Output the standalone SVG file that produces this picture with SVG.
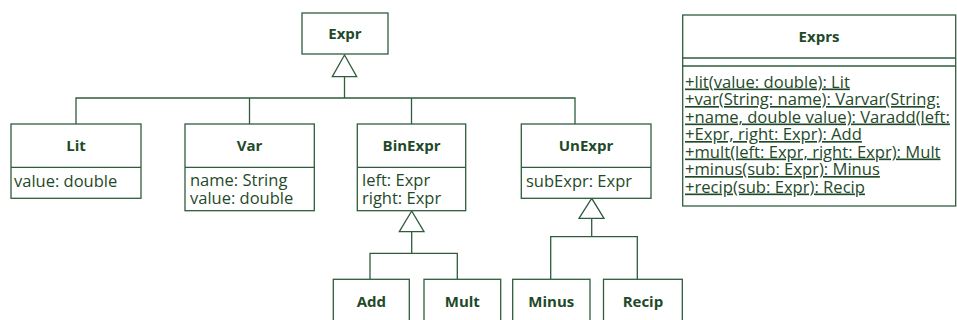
<svg xmlns="http://www.w3.org/2000/svg" width="957" height="320" viewBox="0 0 957 320">
<style>
.box{fill:#fff;stroke:#2f5c3c;stroke-width:1.3}
.ln{fill:none;stroke:#2f5c3c;stroke-width:1.3}
.tri{fill:#fff;stroke:#2f5c3c;stroke-width:1.3}
.h{font-family:"Open Sans","Liberation Sans",sans-serif;font-weight:bold;font-size:15px;fill:#1f4a2a;text-anchor:middle}
.a{font-family:"Open Sans","Liberation Sans",sans-serif;font-size:16.5px;fill:#1f4a2a}
.m{font-family:"Open Sans","Liberation Sans",sans-serif;font-size:16.6px;fill:#1f4a2a;text-decoration:underline}
</style>
<rect x="0" y="0" width="957" height="320" fill="#fff"/>
<g id="connectors">
<polyline class="ln" points="76,124 76,98 575,98 575,124"/>
<line class="ln" x1="249.5" y1="98" x2="249.5" y2="124"/>
<line class="ln" x1="411.5" y1="98" x2="411.5" y2="124"/>
<line class="ln" x1="344.5" y1="76.7" x2="344.5" y2="98"/>
<polygon class="tri" points="344.5,55 332.3,76.7 356.7,76.7"/>
<polyline class="ln" points="370,279.3 370,253.3 457.3,253.3 457.3,279.3"/>
<line class="ln" x1="411.7" y1="231.7" x2="411.7" y2="253.3"/>
<polygon class="tri" points="411.7,211 399.3,231.7 424,231.7"/>
<polyline class="ln" points="550.7,279.3 550.7,236.7 637.3,236.7 637.3,279.3"/>
<line class="ln" x1="591.7" y1="218.3" x2="591.7" y2="236.7"/>
<polygon class="tri" points="591.7,198.3 579,218.3 604,218.3"/>
</g>
<g id="Expr">
<rect class="box" x="302" y="13" width="86" height="41"/>
<text class="h" x="345" y="39">Expr</text>
</g>
<g id="Lit">
<rect class="box" x="11" y="124" width="130" height="74.3"/>
<line class="ln" x1="11" y1="167.3" x2="141" y2="167.3"/>
<text class="h" x="76" y="151">Lit</text>
<text class="a" x="14" y="187">value: double</text>
</g>
<g id="Var">
<rect class="box" x="185" y="124" width="129.3" height="86.7"/>
<line class="ln" x1="185" y1="167.3" x2="314.3" y2="167.3"/>
<text class="h" x="249.5" y="151">Var</text>
<text class="a" x="190" y="186">name: String</text>
<text class="a" x="190" y="204">value: double</text>
</g>
<g id="BinExpr">
<rect class="box" x="357.3" y="124" width="108.4" height="86.7"/>
<line class="ln" x1="357.3" y1="167.3" x2="465.7" y2="167.3"/>
<text class="h" x="411.5" y="151">BinExpr</text>
<text class="a" x="362" y="186">left: Expr</text>
<text class="a" x="362" y="204">right: Expr</text>
</g>
<g id="UnExpr">
<rect class="box" x="521.3" y="124" width="129.7" height="74.3"/>
<line class="ln" x1="521.3" y1="167.3" x2="651" y2="167.3"/>
<text class="h" x="586" y="151">UnExpr</text>
<text class="a" x="526" y="187">subExpr: Expr</text>
</g>
<g id="Add">
<rect class="box" x="333.3" y="279.3" width="76" height="50"/>
<text class="h" x="371.3" y="307">Add</text>
</g>
<g id="Mult">
<rect class="box" x="424" y="279.3" width="76.7" height="50"/>
<text class="h" x="462.3" y="307">Mult</text>
</g>
<g id="Minus">
<rect class="box" x="512.7" y="279.3" width="77.3" height="50"/>
<text class="h" x="551.3" y="307">Minus</text>
</g>
<g id="Recip">
<rect class="box" x="603.5" y="279.3" width="78.8" height="50"/>
<text class="h" x="642.9" y="307">Recip</text>
</g>
<g id="Exprs">
<rect class="box" x="682.7" y="15" width="273" height="191"/>
<line class="ln" x1="682.7" y1="58" x2="955.7" y2="58"/>
<line class="ln" x1="682.7" y1="66" x2="955.7" y2="66"/>
<text class="h" x="819" y="42">Exprs</text>
<text class="m" x="685" y="87.5">+lit(value: double): Lit</text>
<text class="m" x="685" y="105">+var(String: name): Varvar(String:</text>
<text class="m" x="685" y="122.5">+name, double value): Varadd(left:</text>
<text class="m" x="685" y="140">+Expr, right: Expr): Add</text>
<text class="m" x="685" y="157.5">+mult(left: Expr, right: Expr): Mult</text>
<text class="m" x="685" y="175">+minus(sub: Expr): Minus</text>
<text class="m" x="685" y="192.5">+recip(sub: Expr): Recip</text>
</g>
</svg>
